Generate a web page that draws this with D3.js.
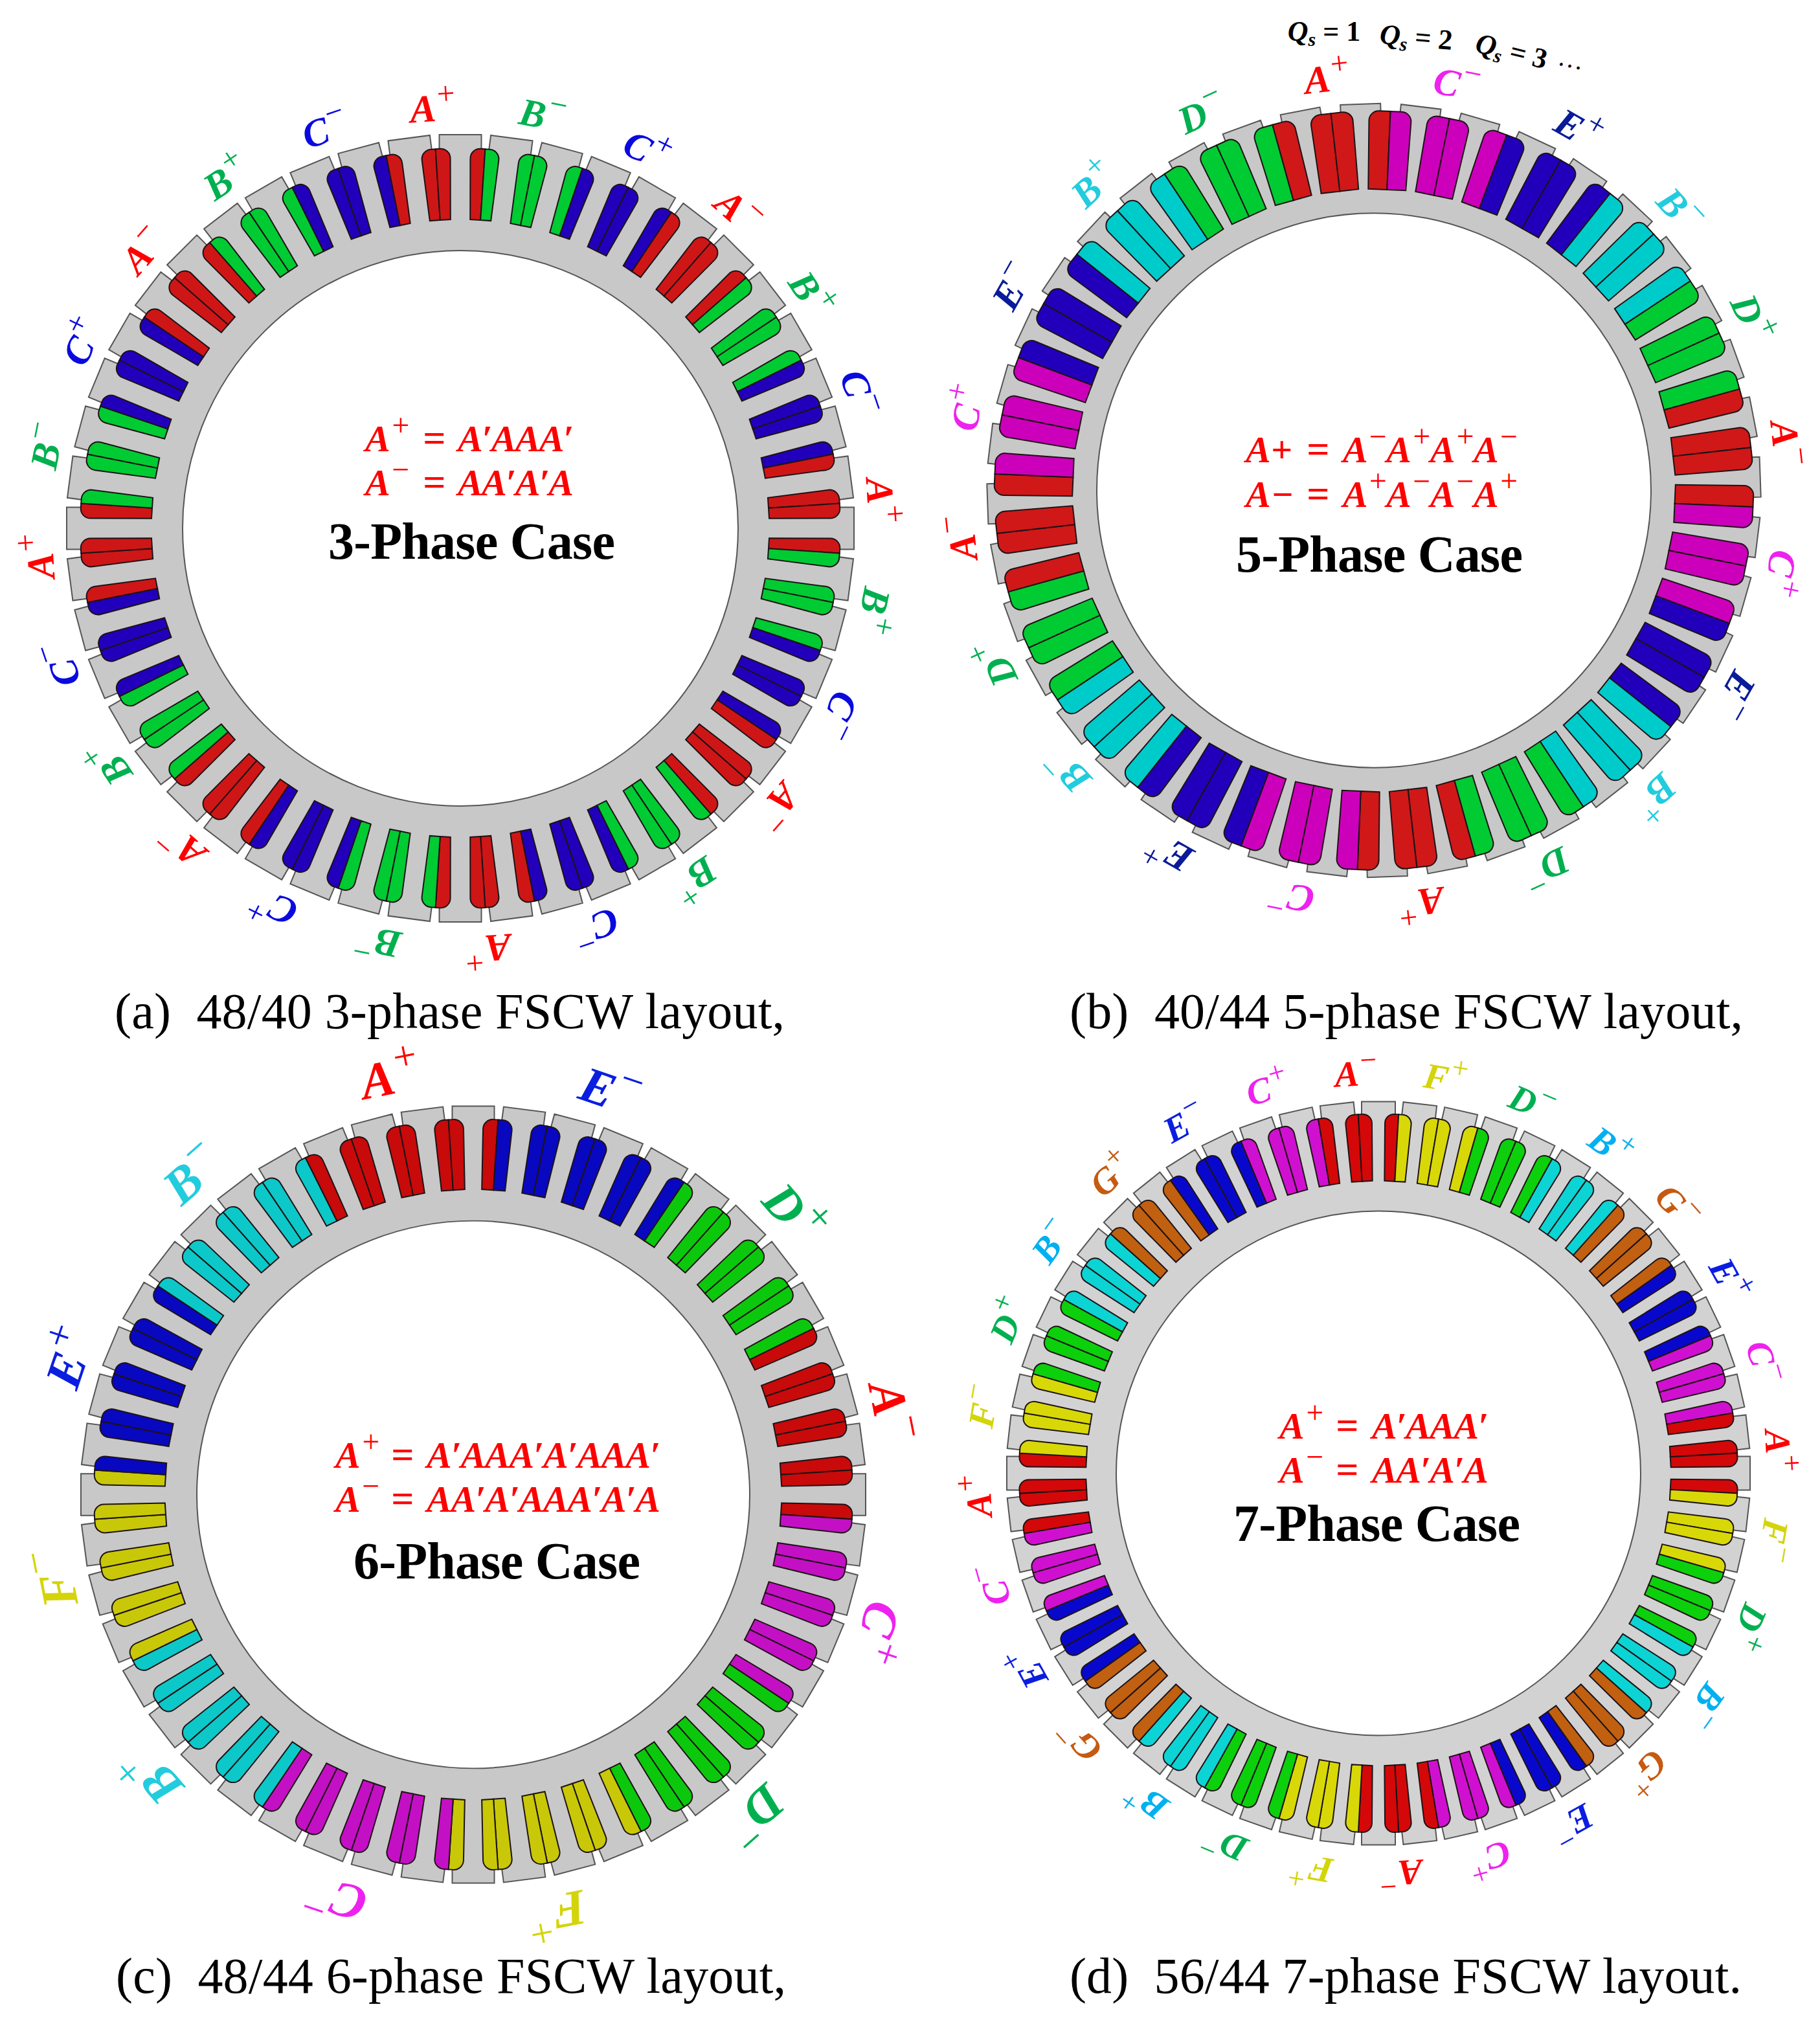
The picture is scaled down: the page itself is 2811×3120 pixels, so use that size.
<!DOCTYPE html>
<html>
<head>
<meta charset="utf-8">
<script src="https://cdn.jsdelivr.net/npm/d3@7"></script>
<style>
  body { margin: 0; background: #fff; }
  text { font-family: "Liberation Serif", serif; white-space: pre; }
</style>
</head>
<body>
<script>
// winding in each slot, clockwise from the first slot right of the reference tooth
var slots3 = ["AB","BB","BC","CC","CA","AA","AB","BB","BC","CC","CA","AA",
              "AB","BB","BC","CC","CA","AA","AB","BB","BC","CC","CA","AA",
              "AB","BB","BC","CC","CA","AA","AB","BB","BC","CC","CA","AA",
              "AB","BB","BC","CC","CA","AA","AB","BB","BC","CC","CA","AA"];
var slots5 = ["AC","CC","CE","EE","EB","BB","BD","DD","DA","AA",
              "AC","CC","CE","EE","EB","BB","BD","DD","DA","AA",
              "AC","CC","CE","EE","EB","BB","BD","DD","DA","AA",
              "AC","CC","CE","EE","EB","BB","BD","DD","DA","AA"];
var slots6 = ["AE","EE","EE","EE","ED","DD","DD","DD","DA","AA","AA","AA",
              "AC","CC","CC","CC","CD","DD","DD","DD","DF","FF","FF","FF",
              "FC","CC","CC","CC","CB","BB","BB","BB","BF","FF","FF","FF",
              "FE","EE","EE","EE","EB","BB","BB","BB","BA","AA","AA","AA"];
var slots7 = ["AF","FF","FD","DD","DB","BB","BG","GG","GE","EE","EC","CC","CA","AA",
              "AF","FF","FD","DD","DB","BB","BG","GG","GE","EE","EC","CC","CA","AA",
              "AF","FF","FD","DD","DB","BB","BG","GG","GE","EE","EC","CC","CA","AA",
              "AF","FF","FD","DD","DB","BB","BG","GG","GE","EE","EC","CC","CA","AA"];

// phase labels round the ring and the slot each one sits over
var labels3 = ["B-","C+","A-","B+","C-","A+","B+","C-","A-","B+","C-","A+",
               "B-","C+","A-","B+","C-","A+","B-","C+","A-","B+","C-","A+"];
var labelSlots3 = [1,3,5,7,9,11,13,15,17,19,21,23,25,27,29,31,33,35,37,39,41,43,45,47];
var labels5 = ["C-","E+","B-","D+","A-","C+","E-","B+","D-","A+",
               "C-","E+","B-","D+","A-","C+","E-","B+","D-","A+"];
var labelSlots5 = [1,3,5,7,9,11,13,15,17,19,21,23,25,27,29,31,33,35,37,39];
var labels6 = ["E-","D+","A-","C+","D-","F+","C-","B+","F-","E+","B-","A+"];
var labelSlots6 = [2,6,10,14,18,22,26,30,34,38,42,46];
var labels7 = ["F+","D-","B+","G-","E+","C-","A+","F-","D+","B-","G+","E-","C+","A-",
               "F+","D-","B+","G-","E+","C-","A+","F-","D+","B-","G+","E-","C+","A-"];
var labelSlots7 = [1,3,5,7,9,11,13,15,17,19,21,23,25,27,29,31,33,35,37,39,41,43,45,47,49,51,53,55];

var math3 = ["A^+ = A′AAA′", "A^− = AA′A′A"];
var math5 = ["A+ = A^−A^+A^+A^−", "A− = A^+A^−A^−A^+"];
var math6 = ["A^+ = A′AAA′A′AAA′", "A^− = AA′A′AAA′A′A"];
var math7 = ["A^+ = A′AAA′", "A^− = AA′A′A"];

var titles = ["3-Phase Case","5-Phase Case","6-Phase Case","7-Phase Case"];
var captions = ["(a)  48/40 3-phase FSCW layout,","(b)  40/44 5-phase FSCW layout,",
                "(c)  48/44 6-phase FSCW layout,","(d)  56/44 7-phase FSCW layout."];
var qsValues = ["1","2","3"];

// colours
var fill3 = {A:"#cf1616",B:"#00cb33",C:"#2200bb"};
var fill5 = {A:"#d01818",B:"#00cbcb",C:"#cc00bb",D:"#00cb33",E:"#2200bb"};
var fill6 = {A:"#c80a0a",B:"#0cc8c8",C:"#c410c4",D:"#0cc80c",E:"#0808c0",F:"#c8c808"};
var fill7 = {A:"#d40808",B:"#0cd4d4",C:"#d010d0",D:"#0cd00c",E:"#0808cc",F:"#d8d808",G:"#c06010"};
var text3 = {A:"#ff0000",B:"#00b050",C:"#0a0ae0"};
var text5 = {A:"#ff0000",B:"#22ccdd",C:"#ee22ee",D:"#00b050",E:"#0a1a99"};
var text6 = {A:"#ff0000",B:"#22ccdd",C:"#ee22ee",D:"#00b050",E:"#0a1ee0",F:"#d4d40a"};
var text7 = {A:"#ff0000",B:"#00b0f0",C:"#ee22ee",D:"#00b050",E:"#0a1ee0",F:"#d4d40a",G:"#c55a11"};

var panels = [
  {slots:slots3, labels:labels3, labelSlots:labelSlots3, math:math3, fill:fill3, text:text3, title:titles[0], caption:captions[0],
   cx:711, cy:816, sy:1, R:608, r0:429, r1:477, r2:587, w1:16, w2:23, c:15, tw:32.5, rot:0, gray:"#c8c8c8",
   labelR:650, labelSize:60, mathX:564, eqX:107, rhsX:143, mathEnd:886, mathY:[697,765], titleX:507, titleW:443, titleY:863, capX:177, capW:1035, capY:1588},
  {slots:slots5, labels:labels5, labelSlots:labelSlots5, math:math5, fill:fill5, text:text5, title:titles[1], caption:captions[1],
   cx:2122, cy:757.5, sy:1, R:597, r0:428, r1:465, r2:586, w1:29, w2:33, c:15, tw:31, rot:-2, gray:"#c8c8c8",
   labelR:640, labelSize:60, mathX:1924, eqX:112, rhsX:150, mathEnd:2344, mathY:[714,783], titleX:1909, titleW:443, titleY:883, capX:1652, capW:1040, capY:1588},
  {slots:slots6, labels:labels6, labelSlots:labelSlots6, math:math6, fill:fill6, text:text6, title:titles[2], caption:captions[2],
   cx:731, cy:2308.5, sy:0.99, R:606, r0:427, r1:476, r2:586, w1:18, w2:23, c:15, tw:32.5, rot:0, gray:"#c8c8c8",
   labelR:657, labelSize:78, mathX:518, eqX:104, rhsX:141, mathEnd:1020, mathY:[2267,2335], titleX:546, titleW:443, titleY:2438, capX:179, capW:1035, capY:3078},
  {slots:slots7, labels:labels7, labelSlots:labelSlots7, math:math7, fill:fill7, text:text7, title:titles[3], caption:captions[3],
   cx:2129, cy:2275.5, sy:1, R:574, r0:405, r1:451.5, r2:555, w1:16, w2:21, c:14, tw:26, rot:0, gray:"#d2d2d2",
   labelR:618, labelSize:56, mathX:1976, eqX:105, rhsX:143, mathEnd:2299, mathY:[2222,2290], titleX:1905, titleW:443, titleY:2380, capX:1652, capW:1038, capY:3078}
];

// Qs row above panel b
var qsX = [2045,2186,2331], qsY = [50,59,80], qsRot = [0,5,14];

var svg = d3.select("body").append("svg").attr("width",2811).attr("height",3120);

// half a slot in the slot's own frame, side = -1 left, 1 right
function halfSlot(p,side){
  var path = d3.path();
  path.moveTo(0,-p.r1);
  path.lineTo(side*p.w1,-p.r1);
  path.arcTo(side*p.w2,-p.r2,0,-p.r2,p.c);
  path.lineTo(0,-p.r2);
  path.closePath();
  return path.toString();
}

// stator outline: teeth on the outside, a plain circle on the inside
function statorPath(p,angle){
  var path = d3.path(), n = p.slots.length;
  var rn = p.r2-6;
  d3.range(n).forEach(function(k){
    var deg = angle(k), da = deg*Math.PI/180;
    var pts = [[-p.tw,-rn],[-p.tw,-p.R],[p.tw,-p.R],[p.tw,-rn]].map(function(q){
      return [q[0]*Math.cos(da)-q[1]*Math.sin(da), q[0]*Math.sin(da)+q[1]*Math.cos(da)];
    });
    pts.forEach(function(q,i){
      if(k==0 && i==0) path.moveTo(q[0],q[1]); else path.lineTo(q[0],q[1]);
    });
  });
  path.closePath();
  path.moveTo(p.r0,0);
  path.arc(0,0,p.r0,0,2*Math.PI);
  path.closePath();
  return path.toString();
}

// text with ^x superscripts
function richText(sel,str,size){
  var tokens = str.match(/\^.|[^\^]+/g), up = 0;
  tokens.forEach(function(t){
    var ts = sel.append("tspan");
    if(t[0]=="^"){
      ts.text(t[1]).attr("font-size",size*0.82).attr("font-weight","normal").attr("font-style","normal")
        .attr("dy",-size*0.42-up).attr("dx",size*0.05);
      up = -size*0.42;
    } else {
      ts.text(t).attr("font-size",size).attr("dy",-up);
      up = 0;
    }
  });
}

panels.forEach(function(p){
  var n = p.slots.length;
  var toothAngle = d3.scaleLinear().domain([0,n]).range([p.rot,p.rot+360]);
  var g = svg.append("g").attr("transform","translate("+p.cx+","+p.cy+") scale(1,"+p.sy+")");

  g.append("path").attr("d",statorPath(p,toothAngle))
    .attr("fill",p.gray).attr("fill-rule","evenodd")
    .attr("stroke","#555").attr("stroke-width",2).attr("stroke-linejoin","miter");

  var slot = g.selectAll("g.slot").data(p.slots).enter().append("g")
    .attr("class","slot")
    .attr("transform",function(d,i){ return "rotate("+toothAngle(i+0.5)+")"; });
  // first letter is the counter clockwise half
  [[-1,0],[1,1]].forEach(function(s){
    slot.append("path").attr("d",halfSlot(p,s[0]))
      .attr("fill",function(d){ return p.fill[d[s[1]]]; })
      .attr("stroke","#1e1216").attr("stroke-width",2);
  });

  // phase labels
  svg.append("g").attr("transform","translate("+p.cx+","+p.cy+")")
    .selectAll("text").data(p.labels).enter().append("text")
    .attr("transform",function(d,i){
      var deg = toothAngle(p.labelSlots[i]+0.5);
      return "rotate("+deg+") translate(0,"+(-p.labelR+p.labelSize*0.33)+")";
    })
    .attr("text-anchor","middle")
    .attr("font-weight","bold").attr("font-style","italic")
    .attr("fill",function(d){ return p.text[d[0]]; })
    .each(function(d){
      richText(d3.select(this),d[0]+"^"+(d[1]=="-"?"−":"+"),p.labelSize);
    });

  // winding equations: left side, equals sign, right side stretched to its end
  p.math.forEach(function(line,i){
    var parts = line.split(" = ");
    var lhs = svg.append("text").attr("x",p.mathX).attr("y",p.mathY[i])
      .attr("fill","#ff0000").attr("font-weight","bold").attr("font-style","italic");
    richText(lhs,parts[0],58);
    svg.append("text").attr("x",p.mathX+p.eqX).attr("y",p.mathY[i]).attr("text-anchor","middle")
      .attr("fill","#ff0000").attr("font-weight","bold").attr("font-size",62).text("=");
    var rhs = svg.append("text").attr("x",p.mathX+p.rhsX).attr("y",p.mathY[i])
      .attr("fill","#ff0000").attr("font-weight","bold").attr("font-style","italic")
      .attr("textLength",p.mathEnd-p.mathX-p.rhsX).attr("lengthAdjust","spacing");
    richText(rhs,parts[1],58);
  });

  svg.append("text").attr("x",p.titleX).attr("y",p.titleY)
    .attr("font-size",80).attr("font-weight","bold").attr("fill","#000")
    .attr("textLength",p.titleW).attr("lengthAdjust","spacing").text(p.title);

  svg.append("text").attr("x",p.capX).attr("y",p.capY)
    .attr("font-size",78).attr("fill","#000")
    .attr("textLength",p.capW).attr("lengthAdjust","spacing").text(p.caption);
});

// Qs = 1, 2, 3 ...
var qs = svg.selectAll("text.qs").data(qsValues).enter().append("text")
  .attr("class","qs")
  .attr("transform",function(d,i){ return "translate("+qsX[i]+","+(qsY[i]+13)+") rotate("+qsRot[i]+")"; })
  .attr("text-anchor","middle")
  .attr("font-size",44).attr("font-weight","bold").attr("fill","#000");
qs.append("tspan").attr("font-style","italic").text("Q");
qs.append("tspan").attr("font-style","italic").attr("font-size",30).attr("dy",8).text("s");
qs.append("tspan").attr("dy",-8).text(function(d){ return " = "+d; });
svg.append("text").attr("transform","translate(2424,104) rotate(12)")
  .attr("text-anchor","middle").attr("font-size",40).attr("fill","#000").text("…");
</script>
</body>
</html>
